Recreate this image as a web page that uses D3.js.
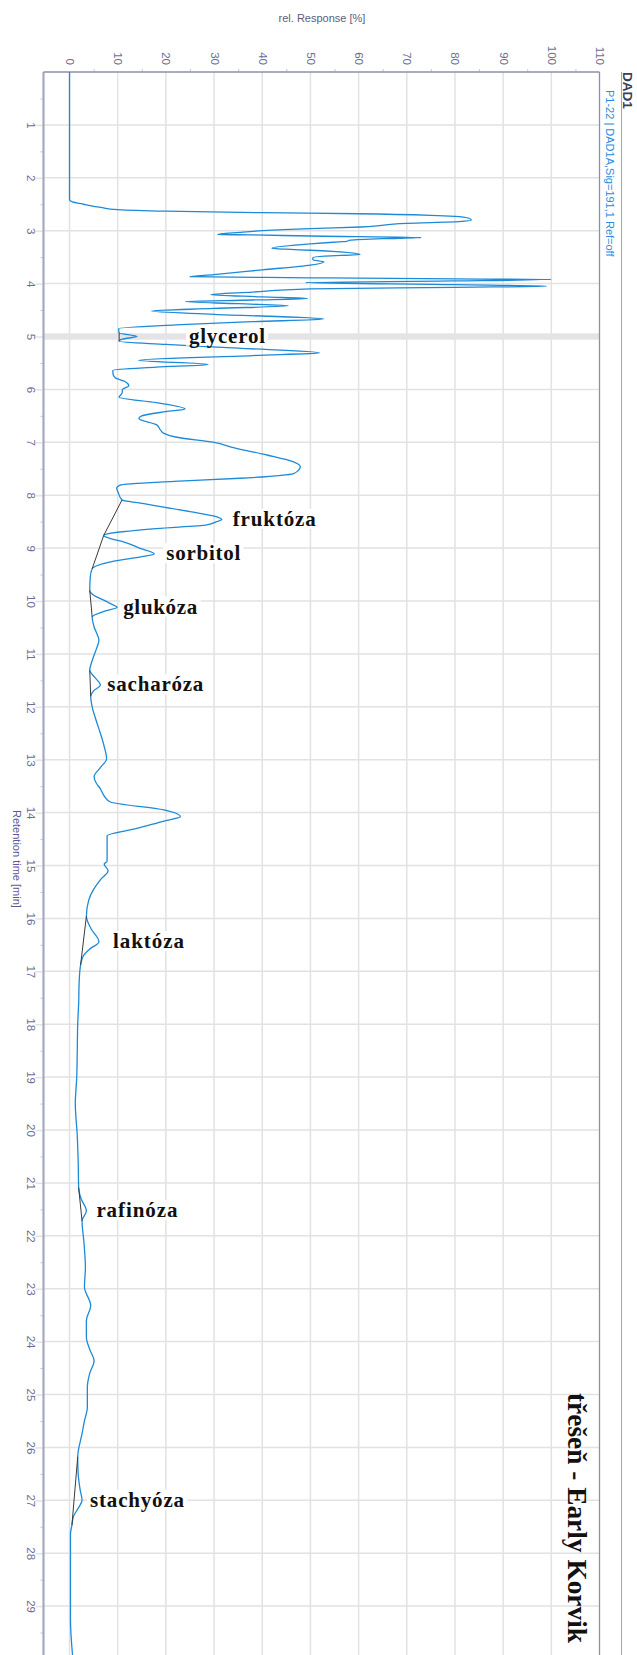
<!DOCTYPE html>
<html>
<head>
<meta charset="utf-8">
<script src="https://cdn.jsdelivr.net/npm/d3@7/dist/d3.min.js"></script>
<style>
  html, body { margin: 0; padding: 0; background: #fff; }
  svg { display: block; }
</style>
</head>
<body>
<svg id="chart" width="637" height="1655"></svg>
<script>
// DAD1 signal, retention time [min] and relative response [%]
const retentionTime = [
  0.00, 2.40, 2.43, 2.45, 2.50, 2.56, 2.60, 2.63, 2.66, 2.68, 2.71, 2.73, 2.76, 2.80, 2.83, 2.86,
  2.93, 2.96, 3.00, 3.03, 3.07, 3.08, 3.10, 3.13, 3.15, 3.18, 3.20, 3.21, 3.25, 3.33, 3.35, 3.37,
  3.45, 3.48, 3.51, 3.55, 3.59, 3.65, 3.74, 3.83, 3.87, 3.89, 3.91, 3.92, 3.95, 3.98, 4.02, 4.05,
  4.07, 4.10, 4.16, 4.21, 4.25, 4.28, 4.31, 4.34, 4.38, 4.42, 4.47, 4.52, 4.58, 4.67, 4.72, 4.78,
  4.85, 4.93, 5.00, 5.05, 5.09, 5.15, 5.22, 5.31, 5.36, 5.45, 5.53, 5.58, 5.64, 5.70, 5.78, 5.85,
  5.93, 6.00, 6.07, 6.15, 6.25, 6.37, 6.42, 6.50, 6.55, 6.67, 6.77, 6.83, 6.90, 7.00, 7.10, 7.24,
  7.37, 7.46, 7.53, 7.59, 7.68, 7.74, 7.81, 7.87, 7.95, 8.09, 8.15, 8.31, 8.41, 8.46, 8.50, 8.56,
  8.63, 8.76, 8.82, 8.88, 9.00, 9.11, 9.16, 9.25, 9.39, 9.55, 9.80, 9.90, 9.98, 10.05, 10.12, 10.20,
  10.30, 10.49, 10.60, 10.74, 10.90, 11.10, 11.31, 11.45, 11.59, 11.70, 11.80, 12.00, 12.25, 12.50, 12.75, 12.98,
  13.15, 13.32, 13.45, 13.55, 13.70, 13.80, 13.95, 14.08, 14.15, 14.30, 14.44, 14.60, 14.92, 14.97, 15.10, 15.27,
  15.45, 15.65, 15.96, 16.20, 16.44, 16.58, 16.69, 16.88, 17.20, 17.60, 18.00, 18.56, 19.00, 19.50, 20.10, 20.60,
  21.09, 21.30, 21.53, 21.72, 22.13, 22.60, 22.97, 23.32, 23.60, 23.92, 24.15, 24.36, 24.60, 24.86, 25.24, 25.50,
  25.74, 26.18, 26.50, 26.80, 27.00, 27.15, 27.31, 27.47, 27.63, 28.32, 29.26, 29.90, 30.00
];
const response = [
  0.0, 0.0, 0.1, 0.5, 2.9, 6.5, 10.0, 20.0, 40.0, 60.0, 75.0, 80.0, 82.7, 83.4, 80.8, 70.0,
  60.5, 50.0, 40.0, 35.4, 30.7, 38.0, 50.0, 73.0, 65.0, 58.3, 57.5, 56.0, 50.0, 42.0, 45.0, 50.0,
  60.3, 53.0, 50.5, 50.5, 52.8, 50.0, 40.0, 30.0, 25.0, 50.0, 80.0, 100.0, 80.0, 49.0, 80.0, 99.0,
  80.0, 50.0, 38.0, 29.3, 40.0, 49.4, 38.0, 24.0, 35.0, 45.4, 30.0, 17.0, 30.0, 52.8, 38.0, 22.0,
  10.2, 10.3, 14.0, 11.0, 10.3, 20.0, 35.0, 51.9, 38.0, 14.3, 28.8, 18.0, 9.0, 9.0, 9.5, 11.5,
  12.3, 11.0, 10.9, 10.3, 18.0, 24.0, 20.0, 15.0, 14.4, 18.1, 18.9, 19.6, 22.0, 30.0, 34.0, 41.0,
  46.5, 47.9, 47.5, 46.5, 35.4, 21.6, 10.5, 9.8, 10.1, 10.9, 14.7, 25.0, 30.6, 31.6, 30.5, 28.5,
  18.1, 7.1, 8.5, 11.2, 14.5, 17.6, 15.0, 9.0, 4.7, 4.3, 4.2, 5.2, 7.0, 8.5, 9.9, 7.0,
  4.7, 5.1, 5.6, 6.1, 5.6, 4.8, 4.2, 5.3, 6.4, 5.0, 4.4, 4.7, 5.5, 6.4, 7.2, 7.7,
  6.4, 5.1, 5.6, 6.4, 7.3, 8.5, 19.6, 23.0, 20.0, 14.0, 7.8, 7.8, 7.8, 7.2, 8.0, 6.4,
  5.0, 4.0, 3.5, 4.5, 6.1, 4.2, 3.0, 2.3, 2.0, 1.9, 1.7, 1.6, 1.5, 1.2, 1.6, 1.8,
  1.9, 2.4, 3.5, 2.6, 3.0, 3.3, 3.1, 4.4, 3.5, 3.5, 4.2, 5.1, 4.2, 3.7, 3.7, 3.1,
  2.6, 1.7, 1.8, 2.2, 2.6, 1.8, 0.8, 0.5, 0.2, 0.2, 0.2, 0.6, 0.7
];

// integrated peaks: name, apex time, apex height
const peakNames   = ["glycerol", "fruktóza", "sorbitol", "glukóza", "sacharóza", "laktóza", "rafinóza", "stachyóza"];
const peakTimes   = [5.00, 8.46, 9.11, 10.12, 11.59, 16.44, 21.53, 27.00];
const peakHeights = [14.0, 31.6, 17.6, 9.9, 6.4, 6.1, 3.5, 2.6];

// integration baselines (start/end time, start/end response)
const baseStartTime = [4.93, 8.09, 8.76, 9.80, 11.31, 15.96, 21.09, 26.18];
const baseStartResp = [10.3, 10.9, 7.1, 4.2, 4.2, 3.5, 1.9, 1.7];
const baseEndTime   = [5.09, 8.76, 9.39, 10.30, 11.80, 16.88, 21.72, 27.47];
const baseEndResp   = [10.3, 7.1, 4.7, 4.7, 4.4, 2.3, 2.6, 0.5];

// axis ticks
const responseTicks = [0, 10, 20, 30, 40, 50, 60, 70, 80, 90, 100, 110];
const timeTicks = d3.range(1, 30);
const timeMinorTicks = d3.range(0.5, 30, 1);
const responseMinorTicks = d3.range(5, 110, 10);

const chartTitle = "třešeň - Early Korvik";
const signalName = "DAD1";
const signalInfo = "P1-22 | DAD1A,Sig=191,1 Ref=off";

// ---------------------------------------------------------------
const svg = d3.select("#chart");
const plotLeft = 43.5, plotRight = 599.5, plotTop = 72, plotBottom = 1659;

const x = d3.scaleLinear().domain([-5.4, 110]).range([plotLeft, plotRight]);
const y = d3.scaleLinear().domain([0, 30]).range([plotTop, plotBottom]);

const axisFont = "'Liberation Sans', Arial, sans-serif";
const serifFont = "'Liberation Serif', 'Times New Roman', serif";
const tickColor = "#6c6c96";
const gridColor = "#e2e2e2";
const frameColor = "#8c90aa";

svg.append("defs").append("clipPath").attr("id", "plotClip")
  .append("rect").attr("x", plotLeft).attr("y", plotTop)
  .attr("width", plotRight - plotLeft).attr("height", plotBottom - plotTop);

// grid
const grid = svg.append("g");
grid.selectAll("line.v").data(responseTicks.filter(d => d < 110)).join("line")
  .attr("x1", d => x(d)).attr("x2", d => x(d))
  .attr("y1", plotTop).attr("y2", plotBottom)
  .attr("stroke", gridColor).attr("stroke-width", 1.5);
grid.selectAll("line.h").data(timeTicks).join("line")
  .attr("x1", plotLeft).attr("x2", plotRight)
  .attr("y1", d => y(d)).attr("y2", d => y(d))
  .attr("stroke", gridColor).attr("stroke-width", 1.5);

// highlighted row at the glycerol retention time
svg.append("rect")
  .attr("x", plotLeft).attr("width", plotRight - plotLeft)
  .attr("y", y(peakTimes[0] - 0.06)).attr("height", y(peakTimes[0] + 0.06) - y(peakTimes[0] - 0.06))
  .attr("fill", "#e4e4e6");

// top axis (relative response)
const topAxis = svg.append("g").attr("transform", `translate(0,${plotTop})`)
  .call(d3.axisTop(x).tickValues(responseTicks).tickSize(0).tickPadding(0));
topAxis.select(".domain").remove();
topAxis.selectAll("text")
  .attr("y", null).attr("dy", "0.35em")
  .attr("transform", "translate(0,-7) rotate(90)")
  .attr("text-anchor", "end")
  .attr("fill", tickColor)
  .style("font", `11.5px ${axisFont}`);
const topMinor = svg.append("g").attr("transform", `translate(0,${plotTop})`)
  .call(d3.axisTop(x).tickValues(responseMinorTicks).tickSize(3).tickFormat(""));
topMinor.select(".domain").remove();
topMinor.selectAll("line").attr("stroke", "#c8c8d4");

// left axis (retention time)
const leftAxis = svg.append("g").attr("transform", `translate(${plotLeft},0)`)
  .call(d3.axisLeft(y).tickValues(timeTicks).tickSize(8).tickPadding(0));
leftAxis.select(".domain").remove();
leftAxis.selectAll("line").attr("stroke", gridColor).attr("stroke-width", 1.5);
leftAxis.selectAll("text")
  .attr("x", null).attr("dy", "0.35em")
  .attr("transform", "translate(-12,0) rotate(90)")
  .attr("text-anchor", "middle")
  .attr("fill", tickColor)
  .style("font", `11.5px ${axisFont}`);
const leftMinor = svg.append("g").attr("transform", `translate(${plotLeft},0)`)
  .call(d3.axisLeft(y).tickValues(timeMinorTicks).tickSize(3).tickFormat(""));
leftMinor.select(".domain").remove();
leftMinor.selectAll("line").attr("stroke", "#c4c4d2");

// frame
svg.append("line").attr("x1", plotLeft).attr("x2", plotLeft).attr("y1", plotTop).attr("y2", 1655)
  .attr("stroke", "#a6a8c0").attr("stroke-width", 2.2);
svg.append("line").attr("x1", plotLeft).attr("x2", plotRight).attr("y1", plotTop).attr("y2", plotTop)
  .attr("stroke", frameColor).attr("stroke-width", 1.3);
svg.append("line").attr("x1", plotRight).attr("x2", plotRight).attr("y1", plotTop).attr("y2", 1655)
  .attr("stroke", frameColor).attr("stroke-width", 1.3);
svg.append("line").attr("x1", 621.5).attr("x2", 621.5).attr("y1", plotTop).attr("y2", 1655)
  .attr("stroke", "#a4a6b6").attr("stroke-width", 1);

// axis titles
svg.append("text")
  .attr("x", 322).attr("y", 22).attr("text-anchor", "middle")
  .attr("fill", "#5d5d7a").style("font", `11px ${axisFont}`)
  .text("rel. Response [%]");
svg.append("text")
  .attr("transform", "translate(13,810) rotate(90)")
  .attr("fill", "#5a5a9a").style("font", `11px ${axisFont}`)
  .text("Retention time [min]");

// legend strip
svg.append("text")
  .attr("transform", "translate(623,72) rotate(90)")
  .attr("fill", "#3c3c52").style("font", `bold 13.5px ${axisFont}`)
  .text(signalName);
svg.append("text")
  .attr("transform", "translate(605.5,90) rotate(90)")
  .attr("fill", "#2a8be0").style("font", `11px ${axisFont}`)
  .text(signalInfo);

// signal trace
const points = retentionTime.map((t, i) => ({ t, r: response[i] }));
const plot = svg.append("g").attr("clip-path", "url(#plotClip)");
plot.append("path")
  .datum(points)
  .attr("fill", "none")
  .attr("stroke", "#1c8ad8")
  .attr("stroke-width", 1.3)
  .attr("stroke-linejoin", "round")
  .attr("d", d3.line().x(d => x(d.r)).y(d => y(d.t)).curve(d3.curveMonotoneY));

// integration baselines
plot.selectAll("line.base").data(baseStartTime).join("line")
  .attr("x1", (d, i) => x(baseStartResp[i])).attr("y1", d => y(d))
  .attr("x2", (d, i) => x(baseEndResp[i])).attr("y2", (d, i) => y(baseEndTime[i]))
  .attr("stroke", "#3a3a3a").attr("stroke-width", 1);

// peak labels, placed right of each apex on a white box
const labelGap = [52, 11, 12, 6, 7, 14, 10, 8];
const labelWidth = [76, 83, 74, 74, 96, 71, 81, 94];
const labels = svg.append("g");
peakNames.forEach((name, i) => {
  const g = labels.append("g");
  const t = g.append("text")
    .attr("x", x(peakHeights[i]) + labelGap[i])
    .attr("y", y(peakTimes[i]))
    .attr("dy", "0.3em")
    .attr("textLength", labelWidth[i])
    .attr("lengthAdjust", "spacing")
    .attr("fill", "#111")
    .style("font", `bold 21px ${serifFont}`)
    .text(name);
  const b = t.node().getBBox();
  g.insert("rect", "text")
    .attr("x", b.x - 3).attr("y", b.y + 2)
    .attr("width", b.width + 6).attr("height", b.height - 4)
    .attr("fill", "#fff");
});

// sample title
svg.append("text")
  .attr("transform", "translate(568,1393) rotate(90)")
  .attr("textLength", 250)
  .attr("lengthAdjust", "spacingAndGlyphs")
  .attr("fill", "#111")
  .style("font", `bold 27px ${serifFont}`)
  .text(chartTitle);
</script>
</body>
</html>
